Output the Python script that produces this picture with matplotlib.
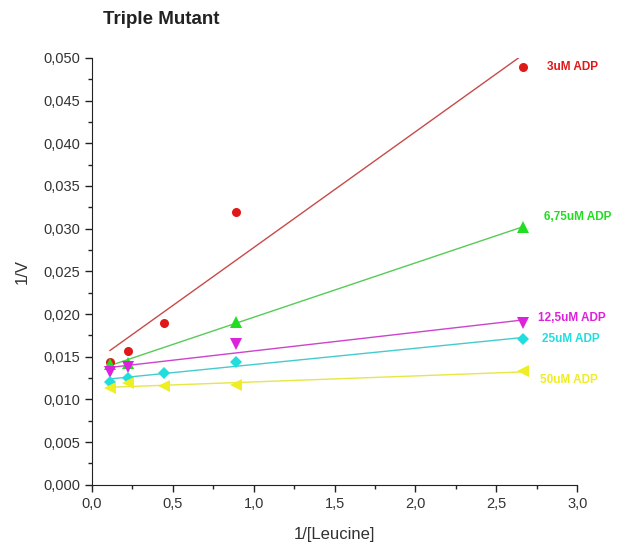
import numpy as np
import matplotlib.pyplot as plt
from matplotlib.ticker import MultipleLocator, FuncFormatter

plt.rcParams['font.family'] = ['Liberation Sans', 'DejaVu Sans']

# 1/[Leucine] values
x_all = [0.111, 0.222, 0.444, 0.889, 2.667]

series_names = ["3uM ADP", "6,75uM ADP", "12,5uM ADP", "25uM ADP", "50uM ADP"]
x_3 = x_all
y_3 = [0.0144, 0.0157, 0.0189, 0.0320, 0.0489]
x_675 = [0.111, 0.222, 0.889, 2.667]
y_675 = [0.0142, 0.0143, 0.0191, 0.0302]
x_125 = [0.111, 0.222, 0.889, 2.667]
y_125 = [0.0132, 0.0138, 0.0165, 0.0190]
x_25 = x_all
y_25 = [0.0121, 0.0125, 0.0131, 0.0144, 0.0171]
x_50 = x_all
y_50 = [0.0113, 0.0119, 0.0116, 0.0117, 0.0133]

colors = ['#e01818', '#22dd22', '#dd22dd', '#22dddd', '#eeee22']
line_colors = ['#c84a4a', '#55cc55', '#cc44cc', '#44cccc', '#e6e644']
markers = ['o', '^', 'v', 'D', '<']
msizes = [6.5, 8, 8, 6.5, 8]
label_off = [(24, 0), (21, 10), (15, 5), (19, 0), (17, -9)]

xs = [x_3, x_675, x_125, x_25, x_50]
ys = [y_3, y_675, y_125, y_25, y_50]

fig = plt.figure(figsize=(6.26, 5.46), dpi=100)
ax = fig.add_axes([0.147, 0.112, 0.775, 0.782])

for i in range(5):
    x = np.array(xs[i]); y = np.array(ys[i])
    k, b = np.polyfit(x, y, 1)
    xf = np.array([x.min(), x.max()])
    ax.plot(xf, k * xf + b, color=line_colors[i], lw=1, zorder=2)
    ax.plot(x, y, linestyle='none', marker=markers[i], color=colors[i],
            markersize=msizes[i], markeredgewidth=0, zorder=3)
    ax.annotate(series_names[i], (x[-1], y[-1]), xytext=label_off[i],
                textcoords='offset pixels', color=colors[i], fontsize=8.5,
                fontweight='bold', va='center', ha='left', annotation_clip=False)

ax.set_xlim(0, 3.0)
ax.set_ylim(0, 0.050)
ax.xaxis.set_major_locator(MultipleLocator(0.5))
ax.xaxis.set_minor_locator(MultipleLocator(0.25))
ax.yaxis.set_major_locator(MultipleLocator(0.005))
ax.yaxis.set_minor_locator(MultipleLocator(0.0025))
ax.xaxis.set_major_formatter(FuncFormatter(lambda v, p: f"{v:.1f}".replace('.', ',')))
ax.yaxis.set_major_formatter(FuncFormatter(lambda v, p: f"{v:.3f}".replace('.', ',')))
ax.tick_params(which='major', direction='out', length=5, width=1, labelsize=10.5, colors='#222222', labelcolor='#333333')
ax.tick_params(which='minor', direction='out', length=3, width=1, colors='#222222')
ax.spines['top'].set_visible(False)
ax.spines['right'].set_visible(False)
for s in ['left', 'bottom']:
    ax.spines[s].set_color('#222222')

ax.set_xlabel("1/[Leucine]", fontsize=12, color='#333333', labelpad=12)
ax.set_ylabel("1/V", fontsize=12, color='#333333', labelpad=10)
fig.text(0.165, 0.965, "Triple Mutant", fontsize=13.5, fontweight='bold', color='#222222', va='center')

fig.savefig("out.png", dpi=100)
